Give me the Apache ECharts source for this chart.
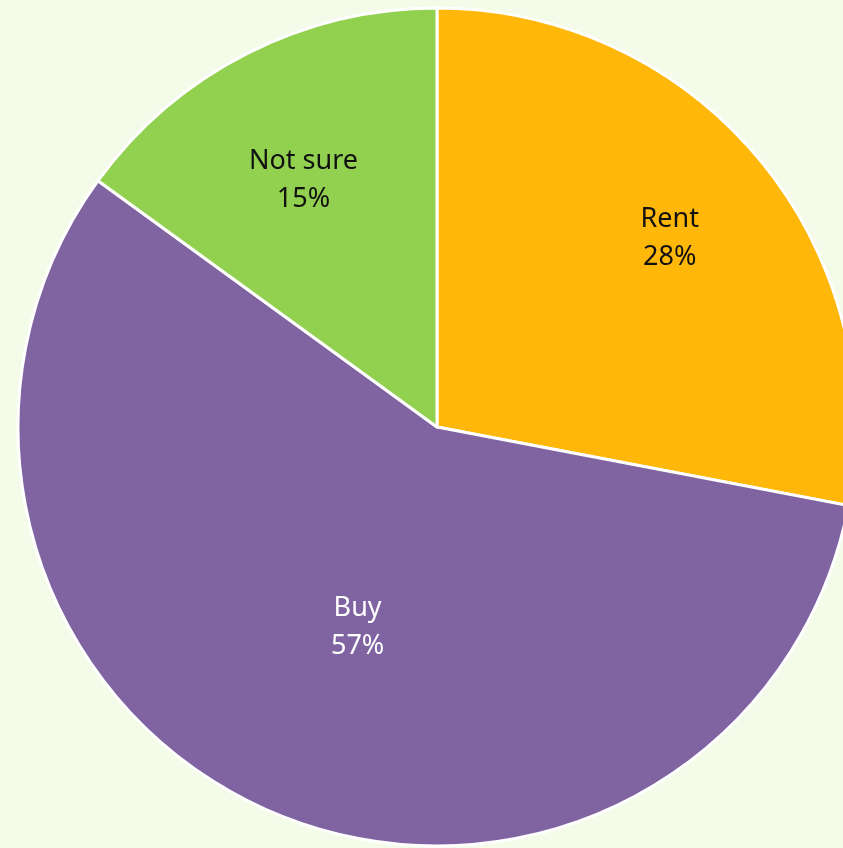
<!DOCTYPE html>
<html>
<head>
<meta charset="utf-8">
<title>Pie</title>
<script src="https://cdn.jsdelivr.net/npm/echarts@6/dist/echarts.min.js"></script>
<style>
html, body { margin: 0; padding: 0; background: #F4FBE9; }
#chart { width: 843px; height: 848px; }
</style>
</head>
<body>
<div id="chart"></div>
<script>
// slice data, clockwise from 12 o'clock
var categories = ['Rent', 'Buy', 'Not sure'];
var shares = [28, 57, 15];
var colors = ['#FFB80A', '#8064A2', '#92D050'];
var textColors = ['#111', '#fff', '#111'];
// label nudges away from the default mid-radius spot
var labelOffsets = [[69, -53], [5, 5], [-37, -57]];

var chart = echarts.init(document.getElementById('chart'));

var pieData = categories.map(function (name, i) {
    return {
        name: name,
        value: shares[i],
        itemStyle: { color: colors[i] },
        label: { color: textColors[i], offset: labelOffsets[i] }
    };
});

chart.setOption({
    backgroundColor: '#F4FBE9',
    animation: false,
    series: [{
        type: 'pie',
        center: [437, 427],
        radius: [0, 419],
        startAngle: 90,
        clockwise: true,
        avoidLabelOverlap: false,
        itemStyle: {
            borderColor: '#ffffff',
            borderWidth: 3
        },
        label: {
            show: true,
            position: 'inside',
            formatter: '{b}\n{c}%',
            fontFamily: 'Noto Sans',
            fontSize: 27,
            lineHeight: 38,
            align: 'center'
        },
        labelLine: { show: false },
        emphasis: { disabled: true },
        data: pieData
    }]
});
</script>
</body>
</html>
